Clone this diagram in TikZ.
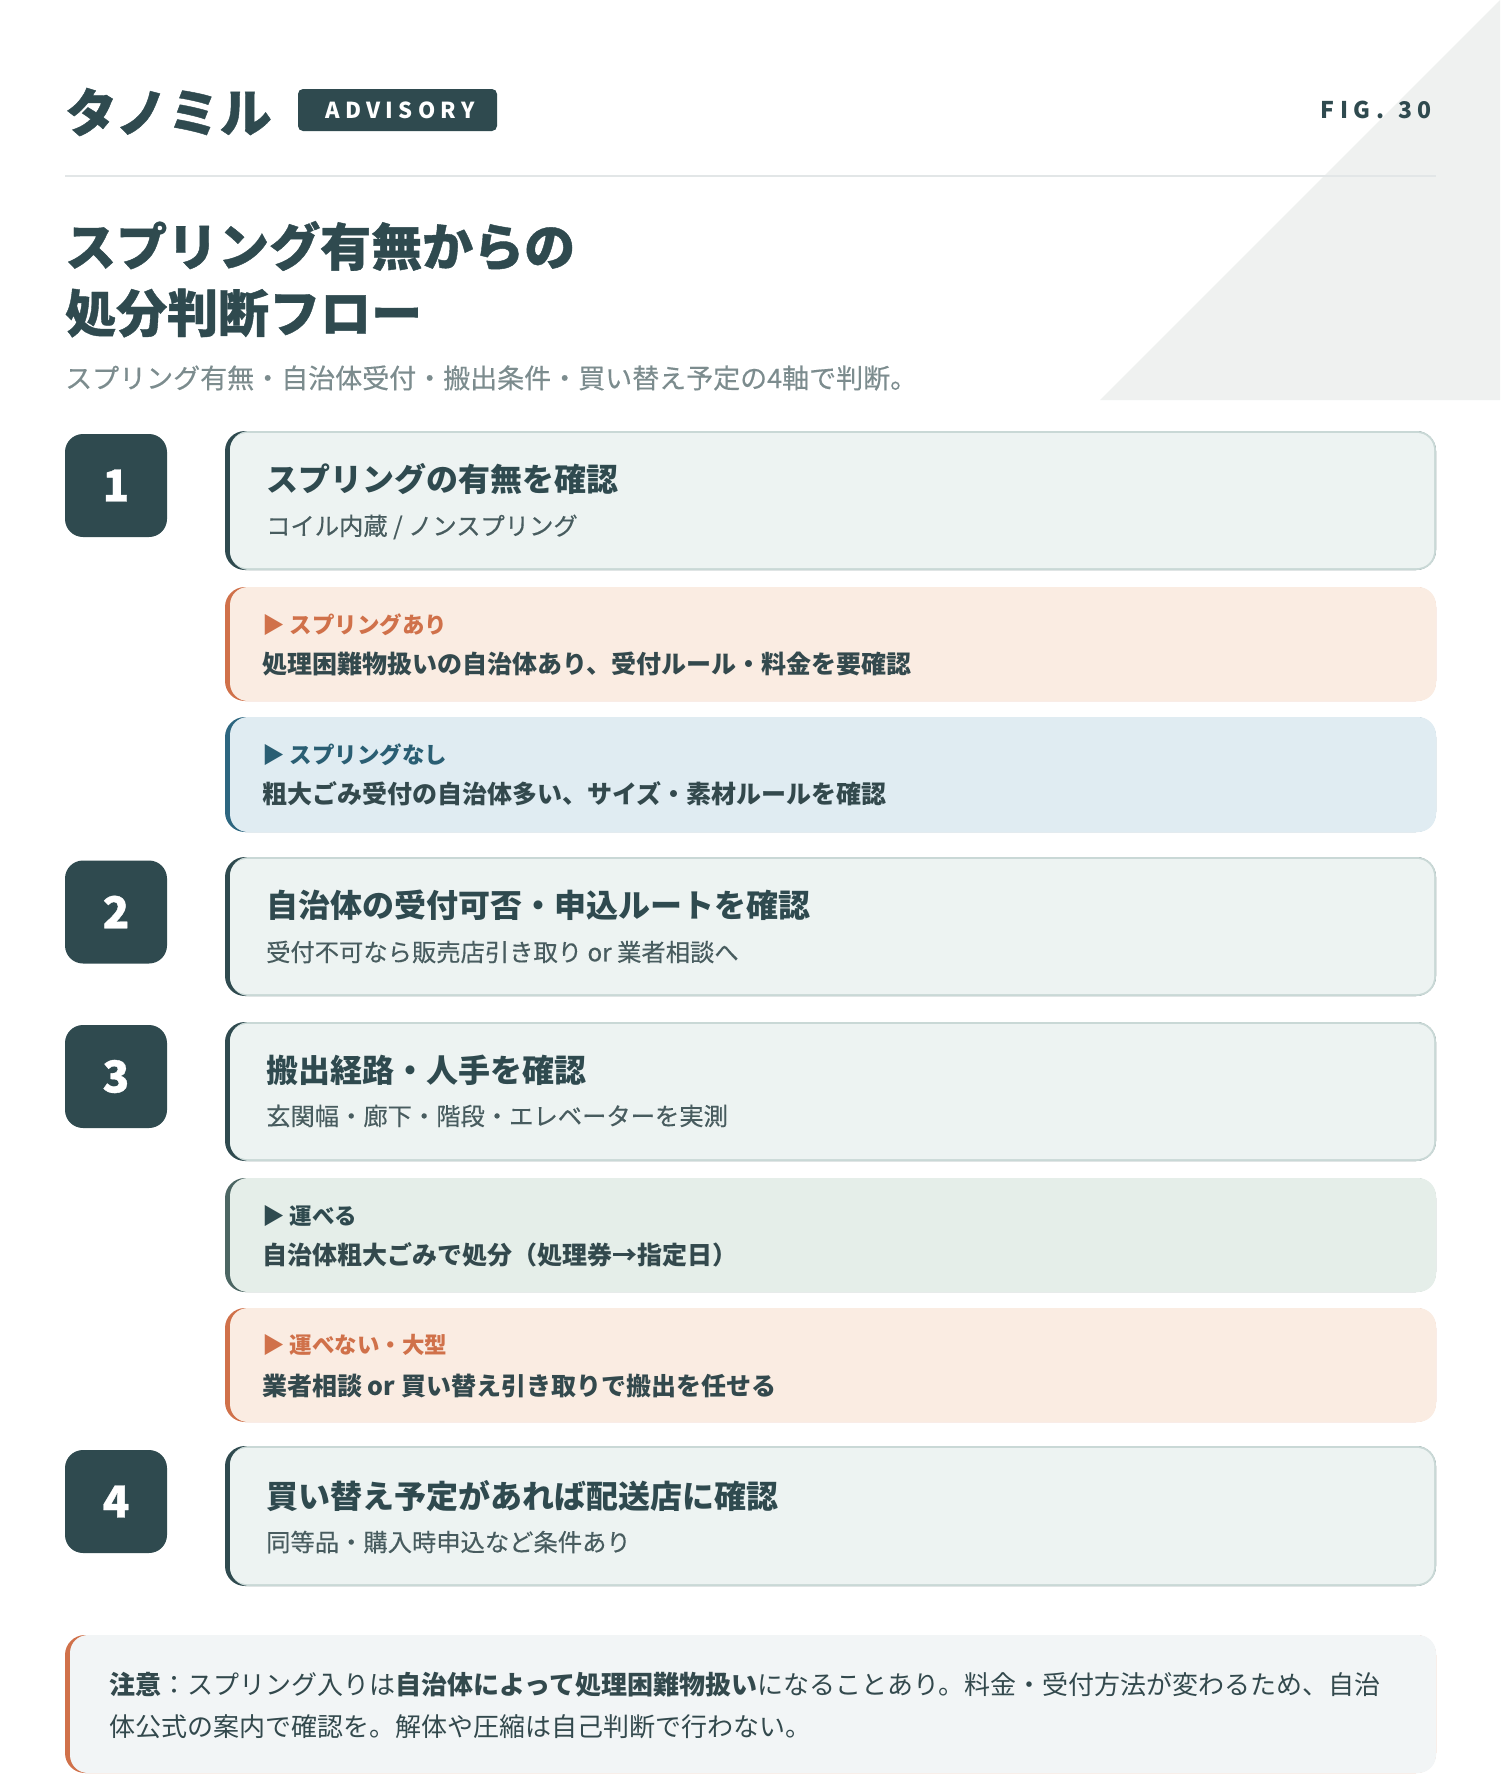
\documentclass[tikz,border=0pt]{standalone}
\usepackage{fontspec}
\setmainfont{Noto Sans CJK JP}
\newfontfamily\widefont[LetterSpace=24]{Noto Sans CJK JP}
\newfontfamily\heavyfont[FakeBold=0.8]{Noto Sans CJK JP}
\newfontfamily\medfont[FakeBold=0.35]{Noto Sans CJK JP}
\usepackage{tikz}
\definecolor{inkdark}{HTML}{2F4A4F}
\definecolor{subgray}{HTML}{7C8C8E}
\definecolor{rulegray}{HTML}{E2E6E7}
\definecolor{cornergray}{HTML}{EFF1F0}
\definecolor{cardfill}{HTML}{EDF3F2}
\definecolor{cardline}{HTML}{C9D8D6}
\definecolor{subink}{HTML}{485C5F}
\definecolor{bodyink}{HTML}{33494D}
\definecolor{peachfill}{HTML}{FAECE2}
\definecolor{orangeacc}{HTML}{D0714A}
\definecolor{bluefill}{HTML}{E0ECF2}
\definecolor{blueacc}{HTML}{2D6680}
\definecolor{bluelab}{HTML}{2A5E73}
\definecolor{greenfill}{HTML}{E5EEE9}
\definecolor{greenacc}{HTML}{4C6663}
\definecolor{notefill}{HTML}{F2F5F6}
\tikzset{
  numbox/.style={fill=inkdark, text=white, rounded corners=18pt, minimum width=102pt,
    minimum height=103pt, inner sep=0pt, font=\fontsize{44}{44}\heavyfont\bfseries},
  steptitle/.style={anchor=west, inner sep=0pt, text=inkdark, font=\fontsize{32}{36}\selectfont\bfseries},
  stepsub/.style={anchor=west, inner sep=0pt, text=subink, font=\fontsize{24.3}{28}\medfont},
  branchlab/.style={anchor=west, inner sep=0pt, font=\fontsize{22.5}{26}\selectfont\bfseries},
  branchtext/.style={anchor=west, inner sep=0pt, text=bodyink, font=\fontsize{25}{28}\selectfont\bfseries},
}
% card with light frame and dark left edge: top, bottom
\newcommand{\stepcard}[2]{%
  \fill[inkdark, rounded corners=20pt] (225,#1) rectangle (1436,#2);
  \fill[cardline, rounded corners=19pt] (230,#1) rectangle (1436,#2);
  \fill[cardfill, rounded corners=17pt] (230,{#1+2}) rectangle (1434,{#2-2});
}
% tinted branch card: top, bottom, edge colour, fill colour
\newcommand{\branchcard}[4]{%
  \fill[#3, rounded corners=20pt] (225,#1) rectangle (1436,#2);
  \fill[#4, rounded corners=18pt] (230,#1) rectangle (1436,#2);
}

\begin{document}
\begin{tikzpicture}[x=1pt, y=-1pt]
  \useasboundingbox (0,0) rectangle (1500,1778);
  \fill[white] (0,0) rectangle (1500,1778);
  \fill[cornergray] (1500,0) -- (1100,400) -- (1500,400) -- cycle; % corner wedge

  % header
  \node[anchor=west, inner sep=0pt, text=inkdark, font=\fontsize{52}{56}\heavyfont\bfseries]
    (brand) at (65,112) {タノミル};
  \node[fill=inkdark, text=white, rounded corners=5pt, minimum width=199pt, minimum height=42pt,
    inner sep=0pt, font=\fontsize{22}{24}\widefont\bfseries] (badge) at (397.5,110) {\hspace{5pt}ADVISORY};
  \node[anchor=east, inner sep=0pt, text=inkdark, font=\fontsize{23}{26}\widefont\bfseries]
    (fig) at (1432,110) {FIG.\hspace{14pt}30};
  \draw[rulegray, line width=2pt] (65,176) -- (1436,176);

  % title
  \node[anchor=west, inner sep=0pt, text=inkdark, font=\fontsize{51}{56}\heavyfont\bfseries]
    (title1) at (65,246) {スプリング有無からの};
  \node[anchor=west, inner sep=0pt, text=inkdark, font=\fontsize{51}{56}\heavyfont\bfseries]
    (title2) at (65,313) {処分判断フロー};
  \node[anchor=west, inner sep=0pt, text=subgray, font=\fontsize{27}{30}\medfont]
    (lead) at (65,378) {スプリング有無・自治体受付・搬出条件・買い替え予定の4軸で判断。};

  % step 1
  \node[numbox] (num1) at (116,485.5) {1};
  \stepcard{431}{570}
  \node[steptitle] (title1a) at (266,479) {スプリングの有無を確認};
  \node[stepsub] (sub1) at (266,527) {コイル内蔵 / ノンスプリング};
  \branchcard{587}{701}{orangeacc}{peachfill}
  \node[branchlab, text=orangeacc] (yes1) at (262,624.5) {▶ スプリングあり};
  \node[branchtext] (yes1b) at (262,664.5) {処理困難物扱いの自治体あり、受付ルール・料金を要確認};
  \branchcard{717}{832}{blueacc}{bluefill}
  \node[branchlab, text=bluelab] (no1) at (262,754.5) {▶ スプリングなし};
  \node[branchtext] (no1b) at (262,794) {粗大ごみ受付の自治体多い、サイズ・素材ルールを確認};

  % step 2
  \node[numbox] (num2) at (116,912) {2};
  \stepcard{857}{996}
  \node[steptitle] (title2a) at (266,905) {自治体の受付可否・申込ルートを確認};
  \node[stepsub] (sub2) at (266,952) {受付不可なら販売店引き取り or 業者相談へ};

  % step 3
  \node[numbox] (num3) at (116,1076.5) {3};
  \stepcard{1022}{1161}
  \node[steptitle] (title3a) at (266,1070) {搬出経路・人手を確認};
  \node[stepsub] (sub3) at (266,1116) {玄関幅・廊下・階段・エレベーターを実測};
  \branchcard{1178}{1292}{greenacc}{greenfill}
  \node[branchlab, text=inkdark] (can3) at (262,1216) {▶ 運べる};
  \node[branchtext] (can3b) at (262,1255) {自治体粗大ごみで処分（処理券→指定日）};
  \branchcard{1308}{1422}{orangeacc}{peachfill}
  \node[branchlab, text=orangeacc] (cannot3) at (262,1345) {▶ 運べない・大型};
  \node[branchtext] (cannot3b) at (262,1386) {業者相談 or 買い替え引き取りで搬出を任せる};

  % step 4
  \node[numbox] (num4) at (116,1501.5) {4};
  \stepcard{1446}{1586}
  \node[steptitle] (title4a) at (266,1496) {買い替え予定があれば配送店に確認};
  \node[stepsub] (sub4) at (266,1542) {同等品・購入時申込など条件あり};

  % caution note
  \fill[orangeacc, rounded corners=20pt] (65,1635) rectangle (1436,1773);
  \fill[notefill, rounded corners=18pt] (70,1635) rectangle (1436,1773);
  \node[anchor=west, inner sep=0pt, align=left, text=bodyink, font=\fontsize{26}{41.5}\selectfont]
    (note) at (109,1705.5) {{\bfseries 注意}：スプリング入りは{\bfseries 自治体によって処理困難物扱い}になることあり。料金・受付方法が変わるため、自治\\
    体公式の案内で確認を。解体や圧縮は自己判断で行わない。};
\end{tikzpicture}
\end{document}
